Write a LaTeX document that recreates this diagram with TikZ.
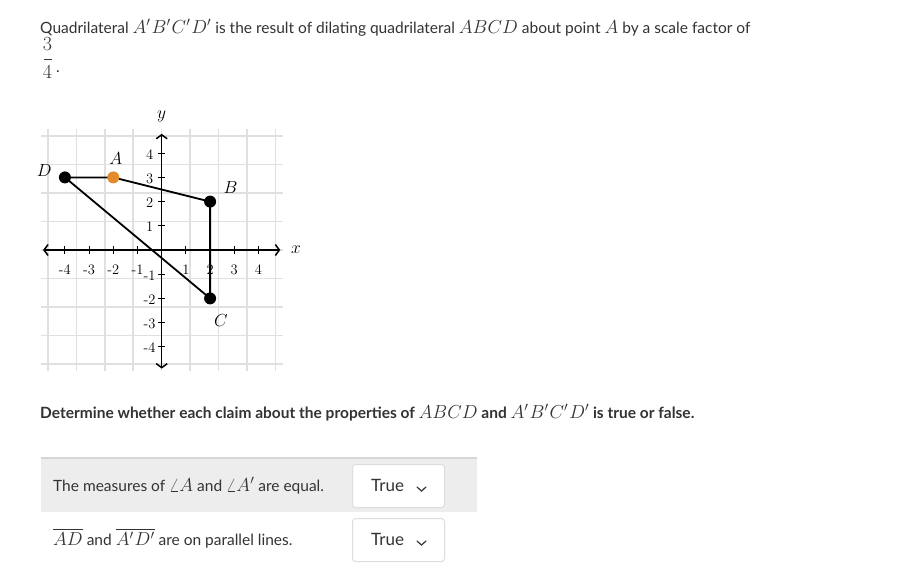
\RequirePackage{fix-cm}
\documentclass[tikz,border=0pt]{standalone}
\usepackage[no-math]{fontspec}
\setmainfont{Lato}
\usepackage{amsmath}
\usetikzlibrary{arrows.meta}
\definecolor{gridgray}{HTML}{E0E0E0}
\definecolor{bandgray}{HTML}{EDEDED}
\definecolor{rulegray}{HTML}{D6D6D6}
\definecolor{boxgray}{HTML}{DDDDDD}
\definecolor{dotorange}{HTML}{E38B2C}
\definecolor{inkgray}{HTML}{333333}
% math set larger than the text round it
\newcommand{\km}[1]{{\fontsize{18.8}{20}\selectfont$#1$}}
\begin{document}
\begin{tikzpicture}[x=1pt,y=-1pt,
    txt/.style={inner sep=0pt,anchor=base west,text=inkgray,font=\fontsize{15.5}{18}\selectfont},
    ticklab/.style={inner sep=0pt,font=\fontfamily{lmr}\fontsize{14.5}{16}\selectfont},
    vlab/.style={inner sep=0pt,font=\fontsize{17.5}{20}\selectfont},
    fracdig/.style={inner sep=0pt,text=inkgray,font=\fontfamily{lmr}\fontsize{20}{22}\selectfont},
    dot/.style={circle,fill=black,minimum size=12pt,inner sep=0pt},
    ddbox/.style={draw=boxgray,fill=white,rounded corners=3pt,line width=1pt,
        minimum width=92pt,minimum height=43pt,anchor=north west},
    barb/.style={line width=1.5pt,{Straight Barb[length=4pt,width=11pt]}-{Straight Barb[length=4pt,width=11pt]}}]
    \useasboundingbox[fill=white] (0,0) rectangle (906,584);
    % question text
    \node[txt] (title) at (40,33) {Quadrilateral \km{A'\mkern1mu B'\mkern1mu C'\mkern1mu D'} is the result of dilating quadrilateral \km{ABCD} about point \km{A} by a scale factor of};
    \node[fracdig] (num) at (47.5,44.5) {3};
    \node[fracdig] (den) at (47.5,72) {4};
    \draw[inkgray,line width=0.8pt] (43.5,59) -- (51.5,59);
    \node[txt] (stop) at (56,72) {.};
    % coordinate plane
    \begin{scope}[shift={(161.7pt,-250pt)},x=24.2pt,y=24.2pt]
        \draw[gridgray,line width=1.5pt] (-5,-5) grid (5,5);
        \draw[barb] (-4.9,0) -- (4.9,0);
        \draw[barb] (0,-4.9) -- (0,4.8);
        \foreach \k in {-4,-3,-2,-1,1,2,3,4}{
            \draw[line width=1pt] (\k,-0.15) -- (\k,0.15);
            \draw[line width=1pt] (-0.15,\k) -- (0.15,\k);
            \node[ticklab] at (\k,-0.82) {\k};
            \node[ticklab] at (-0.5,\k-0.05) {\k};
        }
        \node[vlab] (ylab) at (0,5.5) {$y$};
        \node[vlab] (xlab) at (5.55,0) {$x$};
        \coordinate (D) at (-4,3);
        \coordinate (A) at (-2,3);
        \coordinate (B) at (2,2);
        \coordinate (C) at (2,-2);
        \draw[line width=1.8pt] (D) -- (A) -- (B) -- (C) -- cycle;
        \node[dot] (Dd) at (D) {};
        \node[dot] (Bd) at (B) {};
        \node[dot] (Cd) at (C) {};
        \node[dot,fill=dotorange] (Ad) at (A) {};
        \node[vlab] (Dl) at (-4.85,3.3) {$D$};
        \node[vlab] (Al) at (-1.9,3.8) {$A$};
        \node[vlab] (Bl) at (2.85,2.6) {$B$};
        \node[vlab] (Cl) at (2.45,-2.9) {$C$};
    \end{scope}
    % prompt
    \node[txt,font=\fontsize{15.5}{18}\selectfont\bfseries] (prompt) at (40,418) {Determine whether each claim about the properties of \km{ABCD} and \km{A'\mkern1mu B'\mkern1mu C'\mkern1mu D'} is true or false.};
    % claims
    \fill[bandgray] (41,458) rectangle (477,512);
    \draw[rulegray,line width=2pt] (41,458) -- (477,458);
    \node[txt] (claim1) at (53,491) {The measures of \km{\angle A} and \km{\angle A'} are equal.};
    \node[txt] (claim2) at (53,545) {\km{\overline{AD}} and \km{\overline{A'\mkern1mu D'}} are on parallel lines.};
    \foreach \n/\y in {1/464,2/518}{
        \node[ddbox] (dd\n) at (352,\y) {};
        \node[txt,font=\fontsize{17}{20}\selectfont] (tv\n) at (371,\y+27) {True};
        \draw[inkgray,line width=1.2pt,line cap=round] (417,\y+23) -- (421.5,\y+27) -- (426,\y+23);
    }
\end{tikzpicture}
\end{document}
